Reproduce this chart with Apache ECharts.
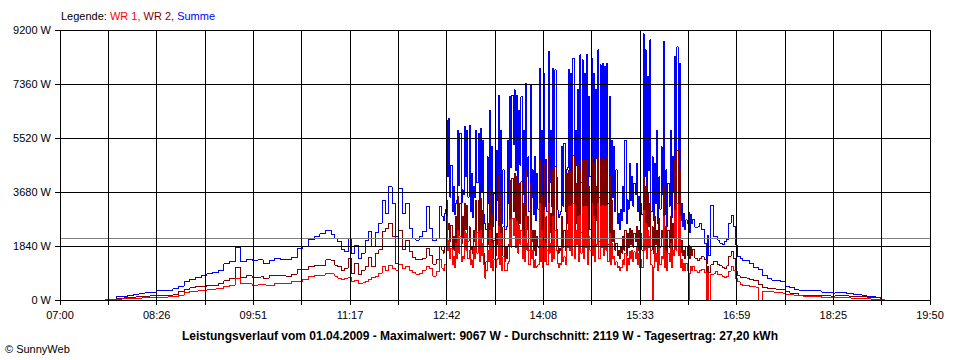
<!DOCTYPE html>
<html>
<head>
<meta charset="utf-8">
<script src="https://cdn.jsdelivr.net/npm/echarts@6/dist/echarts.min.js"></script>
<style>
html,body{margin:0;padding:0;background:#fff;}
#c{width:960px;height:360px;}
#c path{shape-rendering:crispEdges;}
</style>
</head>
<body>
<div id="c"></div>
<script>
// minutes after 07:00
var times = [
40,45,50,55,60,65,70,75,80,85,90,95,100,105,110,115,120,125,130,135,140,145,150,155,160,165,170,175,180,185,190,195,200,205,210,215,220,225,230,235,240,
243,246,249,252,255,258,261,264,267,270,273,276,279,282,285,288,291,294,297,300,303,306,309,312,315,318,321,324,327,330,333,336,
338,339,340,341,342,343,344,345,346,347,348,349,350,351,352,353,354,355,356,357,358,359,360,361,362,363,364,365,366,367,368,369,370,371,372,373,374,375,376,377,378,379,380,381,382,383,384,385,386,387,388,389,390,391,392,393,394,395,396,397,398,399,
400,401,402,403,404,405,406,407,408,409,410,411,412,413,414,415,416,417,418,419,420,421,422,423,424,425,426,427,428,429,430,431,432,433,434,435,436,437,438,439,440,441,442,443,444,445,446,447,448,449,450,451,452,453,454,455,456,457,458,459,
460,461,462,463,464,465,466,467,468,469,470,471,472,473,474,475,476,477,478,479,480,481,482,483,484,485,486,487,488,489,490,491,492,493,494,495,496,497,498,499,500,501,502,503,504,505,506,507,508,509,510,511,512,513,514,515,516,517,518,519,
520,521,522,523,524,525,526,527,528,529,530,531,532,533,534,535,536,537,538,539,540,541,542,543,544,545,546,547,548,549,550,551,552,553,554,555,556,557,558,559,560,
562,564,566,568,570,572,573,574,576,578,580,582,584,586,588,590,592,594,596,598,600,602,604,606,
610,614,618,622,626,630,634,638,642,646,650,654,658,662,666,670,674,678,682,686,690,694,698,702,706,710,714,718,722,726,730
];
var summe = [
10,20,110,110,148,193,238,250,272,307,330,340,386,477,625,704,772,818,886,942,1022,1227,1306,1800,1306,1385,1329,1363,1227,1329,1408,1363,1385,1454,1760,1840,2067,2158,2249,2385,2215,
2101,1987,1704,1646,2101,1590,1874,1420,1590,2021,2328,1840,2294,2612,3407,2953,3861,3294,2158,3805,2953,3294,2442,2101,2044,2158,2328,3180,2442,2021,2101,3180,
2850,2700,2950,3100,6100,4200,6190,3500,4600,3000,3860,2900,3300,3400,5790,3900,5680,3300,3750,3600,5900,4200,5790,3500,5960,3000,4320,2800,3860,3500,5790,4000,5680,3300,5850,3700,5450,2900,2610,2400,4880,3300,6470,2800,5220,2500,3630,2700,5110,3400,6980,3000,5790,2600,4430,2400,2390,2500,5450,3300,6930,4500,
6980,5300,7160,4400,6980,3900,6470,4600,6930,3600,5790,3200,7380,4200,4880,3000,7325,3500,4430,2900,4880,2700,4320,3100,7890,3300,5790,2700,7720,3200,4800,3000,8460,4000,5790,3200,7890,3500,7840,4200,3070,2800,2900,3000,5220,3200,5340,3000,4430,4500,7840,4200,7720,3800,8230,3500,5790,4600,7160,3300,
8350,4000,8180,3600,7720,4500,8350,3100,6930,4200,8230,3700,7720,3200,7160,4800,8520,3500,8010,4400,8060,3800,7950,4100,8060,3300,6930,3000,5450,3500,5220,3000,4430,2600,2950,2400,3070,2700,3860,3000,5450,2600,3410,3100,4660,3400,4200,3200,3980,3600,4660,3000,3520,2700,3290,2900,9067,4200,8520,3600,
7610,4400,8860,3000,4880,2700,4660,3300,5790,2600,4200,3100,5220,3600,8800,2900,4430,2500,3980,3200,5790,2800,4880,3700,8290,4300,8630,3900,8060,2700,3290,2500,2950,2400,2730,2600,3000,2300,2900,2600,2750,
2476,2499,2612,2408,1931,1249,2200,1500,3237,2158,2158,2044,1931,1897,1988,2067,2612,2896,2499,1874,1476,1420,1340,1340,
1249,1113,1044,829,738,681,681,624,477,420,374,340,340,340,318,306,272,250,227,261,250,227,227,193,170,147,114,102,79,34,0
];
var wr2 = [
10,20,60,80,90,114,136,136,140,150,170,170,180,280,363,420,450,460,511,490,560,650,740,1100,760,818,772,790,740,818,830,817,817,885,1030,1045,1136,1180,1192,1363,1340,
1192,1136,1022,1079,1420,908,1249,852,1022,1136,1454,1136,1590,1704,2328,2442,2612,2158,1249,2385,1704,2044,1647,1454,1363,1386,1420,1760,1533,1226,1363,1817,
1703,1600,1817,1800,3407,2400,2612,2000,2555,1700,2158,1700,2839,1900,3520,2200,3293,1900,2839,2100,3293,2400,3237,2000,2498,1700,1817,1600,2385,2000,3407,2300,3407,1900,3464,2100,3066,1600,1022,1300,2612,1900,3748,1600,2952,1400,2044,1500,2271,1900,4202,1700,3520,1500,2498,1300,1817,1400,1817,1900,4088,2600,
4145,3000,4315,2500,4202,2200,3975,2600,4031,2100,3293,1800,4429,2400,2839,1700,3975,2000,2385,1700,2385,1500,2158,1800,4770,1900,3520,1500,4656,1800,2839,1700,4883,2300,2952,1800,4429,2000,4543,2400,1817,1600,1760,1700,2839,1800,2385,1700,4315,2600,4429,2400,4372,2200,4940,2000,3975,2600,4656,1900,
4429,2300,4770,2100,4770,2600,4770,1800,3861,2400,4883,2100,4656,1800,3861,2700,4883,2000,4770,2500,4826,2200,4770,2300,4883,1900,4202,1700,3407,2000,2385,1700,1931,1500,1703,1400,1817,1600,2158,1700,2385,1500,2271,1800,2442,1900,2385,1800,2271,2000,2498,1700,2385,1600,2271,1700,4202,2400,3861,2100,
3635,2500,3293,1700,2498,1600,2839,1900,2385,1500,2782,1800,2385,2100,3861,1700,2498,1500,2385,1800,2839,1600,2612,2100,4770,2400,5110,2200,4429,1600,2044,1500,1703,1400,1817,1500,1874,1400,1817,1500,1726,
1420,1329,1420,1477,1363,909,1136,950,1193,1306,1329,1193,1159,1113,1079,1159,1499,1647,1420,966,818,772,761,738,
704,658,545,431,397,374,363,340,284,227,204,170,170,170,170,159,147,136,136,147,147,136,125,114,114,102,90,79,68,34,0
];
var wr1 = [
5,15,34,40,57,57,80,91,91,95,100,114,130,170,250,300,318,340,363,380,400,460,511,740,560,545,511,520,500,511,568,545,560,620,640,700,795,830,852,900,880,
817,738,704,738,772,624,681,568,590,624,704,772,817,908,1136,1022,1192,1079,1022,1226,1079,1158,999,931,874,908,1022,1158,1079,817,965,1385,
1079,1000,1193,1200,2839,1700,2044,1400,1760,1200,1476,1100,1931,1400,2385,1600,2158,1300,1476,1400,2328,1700,2271,1400,1703,1200,1363,1100,1817,1400,2328,1600,2328,1300,2385,1500,1931,1200,738,1000,1703,1300,2385,1100,1931,1000,1363,1100,1363,1400,2498,1200,2271,1000,1476,1000,1022,1000,1249,1300,2726,1800,
2782,2200,2782,1800,2669,1600,2555,1900,2385,1400,2158,1300,2839,1700,1931,1200,2385,1400,1703,1100,1363,1100,1136,1200,3293,1300,2385,1100,3066,1300,1931,1200,3293,1600,1931,1300,2839,1400,2385,1700,1249,1100,1249,1200,1817,1300,1476,1200,2385,1800,3180,1700,3180,1500,3293,1400,2385,1900,2839,1300,
2896,1600,3180,1400,3180,1800,3180,1200,2158,1700,3293,1500,2839,1300,1817,1900,3293,1400,3180,1800,3237,1500,3180,1700,3237,1300,2271,1200,1931,1400,1476,1200,1306,1100,1136,1000,1113,1100,1363,1200,1590,1000,1420,1200,1646,1400,1703,1300,1646,1400,1817,1200,1590,1100,1363,1100,3066,1700,2612,1400,
2385,1800,2158,1200,0,1100,1817,1300,1590,1000,1817,1200,1476,1400,2839,1100,1646,1000,1590,1300,1931,1100,1703,1500,3066,1700,3293,1500,2839,1100,1363,1000,1249,1000,1249,1000,0,900,1136,1000,1158,
990,930,1000,1050,950,0,900,0,880,890,980,870,850,790,760,800,980,1150,1000,720,620,540,511,490,
454,431,0,306,284,261,250,227,193,170,147,136,125,114,114,102,90,90,90,90,90,79,57,57,45,45,34,34,23,11,0
];
var average = 2119;
var tickLabels = ['07:00','08:26','09:51','11:17','12:42','14:08','15:33','16:59','18:25','19:50'];
var yTicks = [0,1840,3680,5520,7360,9200];
var legendText = ['Legende: ', 'WR 1, ', 'WR 2, ', 'Summe'];
var titleText = 'Leistungsverlauf vom 01.04.2009 - Maximalwert: 9067 W - Durchschnitt: 2119 W - Tagesertrag: 27,20 kWh';
var copyText = '\u00A9 SunnyWeb';

var FONT = '"Liberation Sans", Arial, sans-serif';
function pairs(vals){ return times.map(function(t,i){ return [t, vals[i]]; }); }

var chart = echarts.init(document.getElementById('c'), null, {renderer:'svg'});
chart.setOption({
  animation: false,
  backgroundColor: '#ffffff',
  title: [
    {left: 61, top: 9, padding: 0,
     text: '{k|' + legendText[0] + '}{a|' + legendText[1] + '}{b|' + legendText[2] + '}{c|' + legendText[3] + '}',
     textStyle: {fontFamily: FONT, fontSize: 11, fontWeight: 'normal', lineHeight: 14,
       rich: {k:{color:'#000000',fontFamily:FONT,fontSize:11}, a:{color:'#ff0000',fontFamily:FONT,fontSize:11}, b:{color:'#800000',fontFamily:FONT,fontSize:11}, c:{color:'#0000ff',fontFamily:FONT,fontSize:11}}}},
    {left: 'center', top: 329, padding: 0, text: titleText,
     textStyle: {fontFamily: FONT, fontSize: 12, fontWeight: 'bold', color: '#000', lineHeight: 14}},
    {left: 5, top: 342, padding: 0, text: copyText,
     textStyle: {fontFamily: FONT, fontSize: 11, fontWeight: 'normal', color: '#000', lineHeight: 14}}
  ],
  grid: {left: 60, right: 30, top: 30, bottom: 60, containLabel: false},
  xAxis: [
    {type: 'value', min: 0, max: 770, show: false},
    {type: 'value', min: 0, max: 18, interval: 1, position: 'bottom', z: 10,
     axisLine: {show: true, onZero: false, lineStyle: {color: '#000', width: 1}},
     axisTick: {show: true, length: 5, lineStyle: {color: '#000', width: 1}},
     splitLine: {show: true, lineStyle: {color: '#000', width: 1}},
     axisLabel: {show: true, margin: 9, color: '#000', fontFamily: FONT, fontSize: 11, interval: 0, hideOverlap: false,
       showMinLabel: true, showMaxLabel: true,
       formatter: function(v){ return (v % 2 === 0) ? tickLabels[v/2] : ''; }}}
  ],
  yAxis: [{type: 'value', min: yTicks[0], max: yTicks[yTicks.length-1], interval: yTicks[1]-yTicks[0], z: 10,
     axisLine: {show: true, lineStyle: {color: '#000', width: 1}},
     axisTick: {show: true, length: 5, lineStyle: {color: '#000', width: 1}},
     splitLine: {show: true, lineStyle: {color: '#000', width: 1}},
     axisLabel: {margin: 9, color: '#000', fontFamily: FONT, fontSize: 11, formatter: function(v){ return v + ' W'; }}}],
  series: [
    {name: 'Summe', type: 'line', xAxisIndex: 0, step: 'end', showSymbol: false, symbol: 'none', z: 2,
     lineStyle: {color: '#0000ff', width: 1}, data: pairs(summe)},
    {name: 'WR 2', type: 'line', xAxisIndex: 0, step: 'end', showSymbol: false, symbol: 'none', z: 3,
     lineStyle: {color: '#800000', width: 1}, data: pairs(wr2)},
    {name: 'WR 1', type: 'line', xAxisIndex: 0, step: 'end', showSymbol: false, symbol: 'none', z: 4,
     lineStyle: {color: '#ff0000', width: 1}, data: pairs(wr1),
     markLine: {silent: true, symbol: 'none', label: {show: false}, animation: false,
       lineStyle: {color: '#808080', type: 'solid', width: 1}, data: [{yAxis: average}]}}
  ]
});
</script>
</body>
</html>
